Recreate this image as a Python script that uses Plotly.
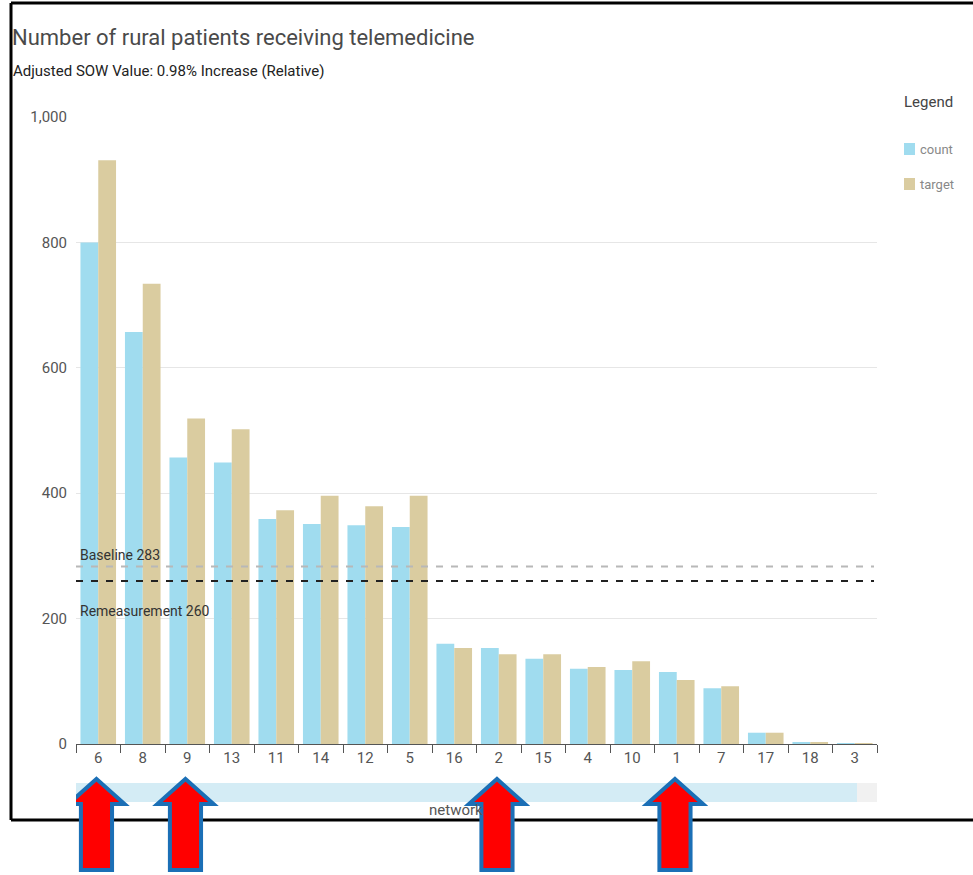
import plotly.graph_objects as go

# Network categories (sorted by count) and their values
networks = ["6", "8", "9", "13", "11", "14", "12", "5", "16", "2", "15", "4", "10", "1", "7", "17", "18", "3"]
count = [800, 657, 457, 449, 359, 351, 349, 346, 160, 153, 136, 120, 118, 115, 89, 18, 2, 1]
target = [931, 734, 519, 502, 373, 396, 379, 396, 153, 143, 143, 123, 132, 102, 92, 18, 2, 1]

baseline = 283
remeasurement = 260
highlighted = ["6", "9", "2", "1"]

y_ticks = [0, 200, 400, 600, 800, 1000]

COUNT_COLOR = "#a0dcef"
TARGET_COLOR = "#dacca0"
FONT = "Roboto, Arial, sans-serif"

W, H = 973, 875
L, R, T, B = 76, 877, 117, 744


def px_x(p):
    return (p - L) / (R - L)


def px_y(p):
    return (B - p) / (B - T)


fig = go.Figure()
fig.add_trace(go.Bar(x=networks, y=count, name="count", marker_color=COUNT_COLOR,
                     marker_line_width=0, showlegend=False))
fig.add_trace(go.Bar(x=networks, y=target, name="target", marker_color=TARGET_COLOR,
                     marker_line_width=0, showlegend=False))

shapes = []
annotations = []

# Reference lines
shapes.append(dict(type="line", xref="paper", yref="y", x0=0, x1=px_x(874),
                   y0=baseline, y1=baseline,
                   line=dict(color="#b8b8b8", width=2, dash="7px,8px")))
shapes.append(dict(type="line", xref="paper", yref="y", x0=0, x1=px_x(874),
                   y0=remeasurement, y1=remeasurement,
                   line=dict(color="#222222", width=2, dash="7px,8px")))
annotations.append(dict(text=f"Baseline {baseline}", xref="paper", yref="y",
                        x=px_x(78), y=baseline, xanchor="left", yanchor="bottom",
                        yshift=2, showarrow=False,
                        font=dict(family=FONT, size=14, color="#333333")))
annotations.append(dict(text=f"Remeasurement {remeasurement}", xref="paper", yref="y",
                        x=px_x(78), y=remeasurement, xanchor="left", yanchor="top",
                        yshift=-20, showarrow=False,
                        font=dict(family=FONT, size=14, color="#333333")))

# Scroll bar under the axis
shapes.append(dict(type="rect", xref="paper", yref="paper", x0=0, x1=px_x(857),
                   y0=px_y(802), y1=px_y(783), fillcolor="#d4ecf5", line_width=0))
shapes.append(dict(type="rect", xref="paper", yref="paper", x0=px_x(857), x1=1,
                   y0=px_y(802), y1=px_y(783), fillcolor="#f1f1f1", line_width=0))

# Frame
frame = dict(color="black", width=3)
shapes.append(dict(type="line", xref="paper", yref="paper", x0=px_x(11), x1=px_x(975),
                   y0=px_y(3), y1=px_y(3), line=frame))
shapes.append(dict(type="line", xref="paper", yref="paper", x0=px_x(11), x1=px_x(11),
                   y0=px_y(3), y1=px_y(820), line=frame))
shapes.append(dict(type="line", xref="paper", yref="paper", x0=px_x(11), x1=px_x(975),
                   y0=px_y(820), y1=px_y(820), line=frame))

# Up arrows under highlighted networks
tip, head_base, bottom = px_y(779), px_y(804), px_y(870)
hw, sw = 0.63, 0.35
for name in highlighted:
    c = networks.index(name) - 0.04
    path = (f"M {c},{tip} L {c + hw},{head_base} L {c + sw},{head_base} "
            f"L {c + sw},{bottom} L {c - sw},{bottom} L {c - sw},{head_base} "
            f"L {c - hw},{head_base} Z")
    shapes.append(dict(type="path", xref="x", yref="paper", path=path,
                       fillcolor="#ff0000", line=dict(color="#1b6fb6", width=4),
                       layer="above"))

# Legend
annotations.append(dict(text="Legend", xref="paper", yref="paper", x=px_x(902), y=px_y(102),
                        xanchor="left", yanchor="middle", showarrow=False,
                        font=dict(family=FONT, size=15, color="#444444")))
for i, (label, color) in enumerate([("count", COUNT_COLOR), ("target", TARGET_COLOR)]):
    cy = 149 + 35 * i
    shapes.append(dict(type="rect", xref="paper", yref="paper", x0=px_x(904), x1=px_x(915),
                       y0=px_y(cy + 6), y1=px_y(cy - 6), fillcolor=color, line_width=0))
    annotations.append(dict(text=label, xref="paper", yref="paper", x=px_x(918), y=px_y(cy),
                            xanchor="left", yanchor="middle", showarrow=False,
                            font=dict(family=FONT, size=13, color="#888888")))

# Subtitle and axis title
annotations.append(dict(text="Adjusted SOW Value: 0.98% Increase (Relative)", xref="paper",
                        yref="paper", x=px_x(11), y=px_y(71), xanchor="left", yanchor="middle",
                        showarrow=False, font=dict(family=FONT, size=15, color="#222222")))
annotations.append(dict(text="network", xref="paper", yref="paper", x=px_x(456), y=px_y(821),
                        xanchor="center", yanchor="bottom", showarrow=False,
                        font=dict(family=FONT, size=15, color="#555555")))

fig.update_layout(
    width=W, height=H,
    margin=dict(l=L, r=W - R, t=T, b=H - B, autoexpand=False),
    paper_bgcolor="white", plot_bgcolor="white",
    title=dict(text="Number of rural patients receiving telemedicine",
               x=12 / W, xref="container", xanchor="left",
               y=1 - 37 / H, yref="container", yanchor="middle",
               font=dict(family=FONT, size=22, color="#4a4a4a")),
    barmode="group", bargap=0.2, bargroupgap=0,
    shapes=shapes, annotations=annotations,
    font=dict(family=FONT),
)
fig.update_xaxes(type="category", categoryorder="array", categoryarray=networks,
                 range=[-0.5, len(networks) - 0.5], automargin=False,
                 showline=True, linecolor="#555555", linewidth=1,
                 ticks="outside", tickson="boundaries", ticklen=8, tickcolor="#555555",
                 tickfont=dict(family=FONT, size=15, color="#555555"), showgrid=False)
fig.update_yaxes(range=[0, 1000], tickvals=y_ticks, tickformat=",", automargin=False,
                 showgrid=True, gridcolor="#e6e6e6", zeroline=False, showline=False,
                 ticklabelstandoff=8,
                 tickfont=dict(family=FONT, size=15, color="#555555"))

fig.write_html("out.html")
